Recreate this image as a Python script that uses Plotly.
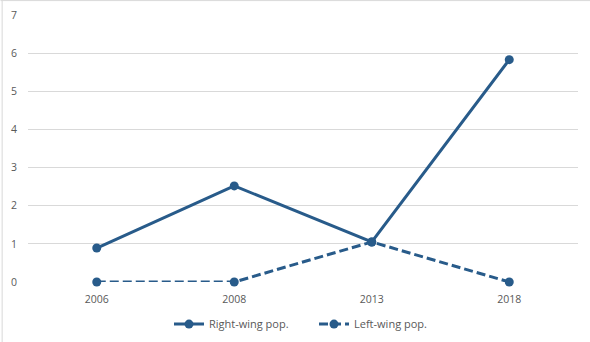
import plotly.graph_objects as go

years = ["2006", "2008", "2013", "2018"]
right_wing = [0.89, 2.52, 1.05, 5.83]
left_wing = [0.0, 0.0, 1.05, 0.0]
y_ticks = [0, 1, 2, 3, 4, 5, 6, 7]

line_color = "#285B8A"

fig = go.Figure()
fig.add_trace(go.Scatter(
    x=years, y=right_wing, name="Right-wing pop.",
    mode="lines+markers",
    line=dict(color=line_color, width=3),
    marker=dict(color=line_color, size=9),
    cliponaxis=False,
))
fig.add_trace(go.Scatter(
    x=years, y=left_wing, name="Left-wing pop.",
    mode="lines+markers",
    line=dict(color=line_color, width=3, dash="9px,4px"),
    marker=dict(color=line_color, size=9),
    cliponaxis=False,
))

fig.update_layout(
    width=590, height=342,
    margin=dict(l=28, r=12, t=15, b=60, autoexpand=False),
    paper_bgcolor="white", plot_bgcolor="white",
    font=dict(family="Open Sans", size=10, color="#595959"),
    showlegend=True,
    legend=dict(
        orientation="h", x=0.52, xanchor="center",
        yref="container", y=0.01, yanchor="bottom",
        entrywidth=100, entrywidthmode="pixels",
        font=dict(size=11, color="#595959"),
    ),
    xaxis=dict(
        type="category", range=[-0.5, 3.5],
        showgrid=False, zeroline=False, showline=False,
        ticks="", ticklabelstandoff=9,
        tickfont=dict(size=10.5, color="#595959"),
    ),
    yaxis=dict(
        range=[0, 7], tickvals=y_ticks,
        showgrid=True, gridcolor="#D9D9D9", gridwidth=1,
        zeroline=False, showline=False, ticks="",
        ticklabelstandoff=10,
        tickfont=dict(size=10.5, color="#595959"),
    ),
    shapes=[
        dict(type="line", xref="paper", yref="paper", x0=-0.05, x1=1.03, y0=1.054, y1=1.054,
             line=dict(color="#D9D9D9", width=1)),
        dict(type="line", xref="paper", yref="paper", x0=-0.047, x1=-0.047, y0=1.054, y1=-0.23,
             line=dict(color="#D9D9D9", width=1)),
    ],
)

fig.write_html("out.html")
